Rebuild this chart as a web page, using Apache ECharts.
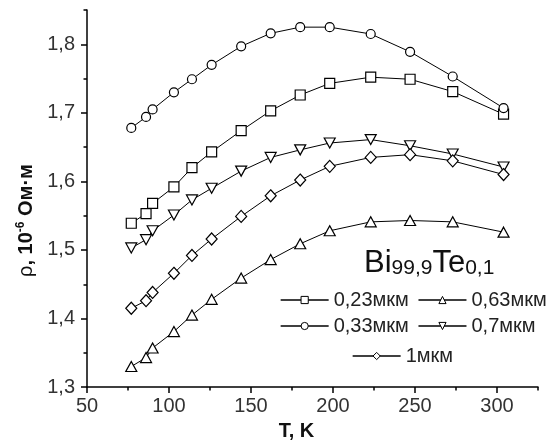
<!DOCTYPE html>
<html>
<head>
<meta charset="utf-8">
<script src="https://cdn.jsdelivr.net/npm/echarts@6/dist/echarts.min.js"></script>
<style>html,body{margin:0;padding:0;background:#fff}#c{width:550px;height:446px}</style>
</head>
<body>
<div id="c"></div>
<script>
// Temperatures, K
var T = [77, 86, 90, 103, 114, 126, 144, 162, 180, 198, 223, 247, 273, 304];
// Resistivity, 10^-6 Ohm*m
var rho023 = [1.539, 1.553, 1.568, 1.592, 1.620, 1.643, 1.674, 1.703, 1.726, 1.743, 1.752, 1.749, 1.731, 1.698];
var rho033 = [1.678, 1.694, 1.705, 1.730, 1.749, 1.770, 1.797, 1.816, 1.825, 1.825, 1.815, 1.789, 1.753, 1.707];
var rho063 = [1.330, 1.343, 1.357, 1.381, 1.405, 1.428, 1.459, 1.486, 1.509, 1.528, 1.541, 1.543, 1.541, 1.526];
var rho07  = [1.503, 1.515, 1.528, 1.551, 1.573, 1.590, 1.615, 1.635, 1.646, 1.656, 1.661, 1.652, 1.640, 1.621];
var rho1   = [1.415, 1.426, 1.438, 1.466, 1.492, 1.516, 1.549, 1.579, 1.602, 1.622, 1.635, 1.639, 1.630, 1.610];
var names = ['0,23мкм', '0,33мкм', '0,63мкм', '0,7мкм', '1мкм'];
// Ticks
var xMajor = [50, 100, 150, 200, 250, 300];
var xMinor = [75, 125, 175, 225, 275, 325];
var yMajor = [1.3, 1.4, 1.5, 1.6, 1.7, 1.8];
var yMinor = [1.35, 1.45, 1.55, 1.65, 1.75, 1.85];

var FONT = 'Liberation Sans';
function pairs(ys) { return T.map(function (t, i) { return [t, ys[i]]; }); }
function mk(name, ys, symbol, size, rotate) {
  return {
    name: name, type: 'line', data: pairs(ys),
    symbol: symbol, symbolSize: size, symbolRotate: rotate || 0,
    showAllSymbol: true,
    lineStyle: { color: '#000', width: 1 },
    itemStyle: { color: '#fff', borderColor: '#000', borderWidth: 1.2 },
    xAxisIndex: 0, yAxisIndex: 0, animation: false
  };
}
var axisLineStyle = { color: '#000', width: 1.5 };
var legendBase = {
  orient: 'horizontal', padding: 0, itemGap: 9, itemWidth: 48, itemHeight: 9,
  textStyle: { fontFamily: FONT, fontSize: 20, color: '#222' },
  itemStyle: { color: '#fff', borderColor: '#000', borderWidth: 1 },
  lineStyle: { color: '#000', width: 1.3 },
  selectedMode: false
};
var chart = echarts.init(document.getElementById('c'));
chart.setOption({
  animation: false,
  backgroundColor: '#fff',
  grid: { left: 87, right: 12, top: 10, bottom: 55 },
  title: {
    left: 364, top: 247, padding: 0,
    text: '{big|Bi}{sub|99,9}{big|Te}{sub|0,1}',
    textStyle: {
      fontWeight: 'normal',
      rich: {
        big: { fontFamily: FONT, fontSize: 31, fontWeight: 'normal', color: '#111', verticalAlign: 'bottom', lineHeight: 32 },
        sub: { fontFamily: FONT, fontSize: 21, fontWeight: 'normal', color: '#111', verticalAlign: 'bottom', lineHeight: 32 }
      }
    }
  },
  legend: [
    Object.assign({}, legendBase, { left: 280, top: 290, data: [names[0], names[2]] }),
    Object.assign({}, legendBase, { left: 280, top: 316, data: [names[1], names[3]] }),
    Object.assign({}, legendBase, { left: 352, top: 346, data: [names[4]] })
  ],
  xAxis: [{
    type: 'value', min: 50, max: 325, interval: 50,
    axisLine: { show: true, lineStyle: axisLineStyle },
    axisTick: { show: true, length: 6, lineStyle: axisLineStyle, customValues: xMajor },
    axisLabel: { customValues: xMajor, margin: 9, fontFamily: FONT, fontSize: 20, color: '#333' },
    splitLine: { show: false },
    name: 'T, K', nameLocation: 'middle', nameGap: 33,
    nameTextStyle: { fontFamily: FONT, fontSize: 20, fontWeight: 'bold', color: '#111', padding: [0, 32, 0, 0] }
  }, {
    type: 'value', min: 50, max: 325, interval: 50, position: 'bottom',
    axisLine: { show: false },
    axisTick: { show: true, length: 3.5, lineStyle: axisLineStyle, customValues: xMinor },
    axisLabel: { show: false }, splitLine: { show: false }
  }],
  yAxis: [{
    type: 'value', min: 1.3, max: 1.85, interval: 0.1,
    axisLine: { show: true, lineStyle: axisLineStyle },
    axisTick: { show: true, length: 6, lineStyle: axisLineStyle, customValues: yMajor },
    axisLabel: {
      customValues: yMajor, margin: 12, fontFamily: FONT, fontSize: 20, color: '#333',
      formatter: function (v) { return v.toFixed(1).replace('.', ','); }
    },
    splitLine: { show: false },
    name: '{r|ρ}{b|, 10}{s|-6}{b| Ом·м}', nameLocation: 'middle', nameGap: 46,
    nameTextStyle: {
      padding: [0, 44, 0, 0],
      rich: {
        r: { fontFamily: FONT, fontSize: 20, color: '#111', verticalAlign: 'bottom', lineHeight: 22 },
        b: { fontFamily: FONT, fontSize: 20, fontWeight: 'bold', color: '#111', verticalAlign: 'bottom', lineHeight: 22 },
        s: { fontFamily: FONT, fontSize: 12, fontWeight: 'bold', color: '#111', verticalAlign: 'top', lineHeight: 22 }
      }
    }
  }, {
    type: 'value', min: 1.3, max: 1.85, interval: 0.1, position: 'left',
    axisLine: { show: false },
    axisTick: { show: true, length: 3.5, lineStyle: axisLineStyle, customValues: yMinor },
    axisLabel: { show: false }, splitLine: { show: false }
  }],
  series: [
    mk(names[0], rho023, 'rect', 10),
    mk(names[1], rho033, 'circle', 9),
    mk(names[2], rho063, 'triangle', [11, 10]),
    mk(names[3], rho07, 'triangle', [11, 10], 180),
    mk(names[4], rho1, 'diamond', [11, 12])
  ]
});
</script>
</body>
</html>
